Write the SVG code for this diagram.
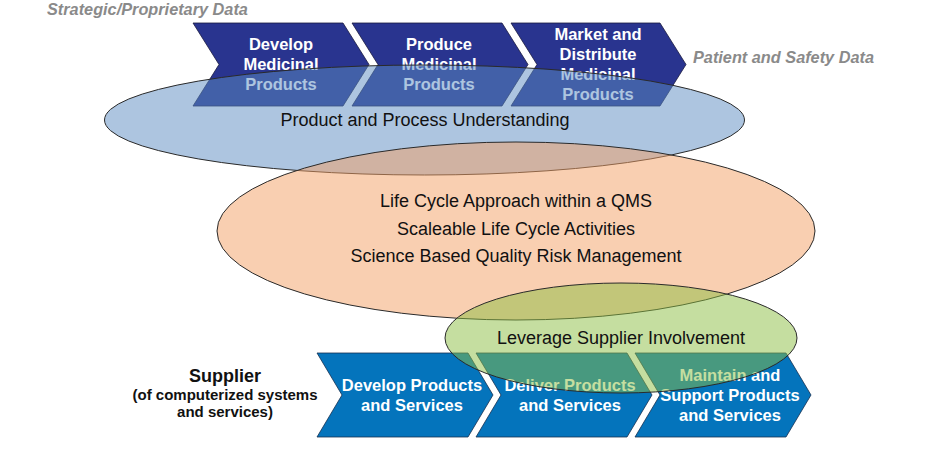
<svg xmlns="http://www.w3.org/2000/svg" width="946" height="450" viewBox="0 0 946 450">
<style>
.chevT{fill:#29348f;stroke:#1a1a40;stroke-width:0.8}
.chevB{fill:#0474bc;stroke:#163050;stroke-width:0.8}
.ct{font-family:"Liberation Sans",Arial,sans-serif;font-weight:bold;font-size:16.5px;fill:#ffffff;text-anchor:middle}
.cb{font-family:"Liberation Sans",Arial,sans-serif;font-weight:bold;font-size:16.5px;fill:#ffffff;text-anchor:middle}
.lbl{font-family:"Liberation Sans",Arial,sans-serif;font-weight:bold;font-style:italic;font-size:16.3px;fill:#8a8a8a}
.et{font-family:"Liberation Sans",Arial,sans-serif;font-size:18px;fill:#111111;text-anchor:middle}
.ell{stroke:#2a2a2a;stroke-width:1}
.sup{font-family:"Liberation Sans",Arial,sans-serif;font-weight:bold;fill:#111111;text-anchor:middle}
</style>
<rect width="946" height="450" fill="#ffffff"/>
<text class="lbl" x="47" y="15">Strategic/Proprietary Data</text>
<text class="lbl" x="693" y="63">Patient and Safety Data</text>
<g id="top-develop">
<path class="chevT" d="M193,23 L343,23 L369,64.5 L343,106 L193,106 L219,64.5 Z"/>
<text class="ct" x="281" y="50">Develop</text>
<text class="ct" x="281" y="70">Medicinal</text>
<text class="ct" x="281" y="90">Products</text>
</g>
<g id="top-produce">
<path class="chevT" d="M352,23 L502,23 L528,64.5 L502,106 L352,106 L378,64.5 Z"/>
<text class="ct" x="439" y="50">Produce</text>
<text class="ct" x="439" y="70">Medicinal</text>
<text class="ct" x="439" y="90">Products</text>
</g>
<g id="top-market">
<path class="chevT" d="M511,23 L660,23 L686,64.5 L660,106 L511,106 L537,64.5 Z"/>
<text class="ct" x="598" y="40">Market and</text>
<text class="ct" x="598" y="60">Distribute</text>
<text class="ct" x="598" y="80">Medicinal</text>
<text class="ct" x="598" y="100">Products</text>
</g>
<g id="supplier-label">
<text class="sup" x="225" y="382" font-size="18">Supplier</text>
<text class="sup" x="225" y="400" font-size="15">(of computerized systems</text>
<text class="sup" x="225" y="417" font-size="15">and services)</text>
</g>
<g id="bot-develop">
<path class="chevB" d="M317,353 L468,353 L493,395 L468,437 L317,437 L342,395 Z"/>
<text class="cb" x="412" y="391">Develop Products</text>
<text class="cb" x="412" y="411">and Services</text>
</g>
<g id="bot-deliver">
<path class="chevB" d="M476,353 L627,353 L652,395 L627,437 L476,437 L501,395 Z"/>
<text class="cb" x="570" y="391">Deliver Products</text>
<text class="cb" x="570" y="411">and Services</text>
</g>
<g id="bot-maintain">
<path class="chevB" d="M635,353 L786,353 L811,395 L786,437 L635,437 L660,395 Z"/>
<text class="cb" x="730" y="381">Maintain and</text>
<text class="cb" x="730" y="401">Support Products</text>
<text class="cb" x="730" y="421">and Services</text>
</g>
<g id="product-process">
<ellipse class="ell" cx="424.5" cy="120" rx="320" ry="55" fill="#5b8bc1" fill-opacity="0.5"/>
<text class="et" x="425" y="126">Product and Process Understanding</text>
</g>
<g id="lifecycle">
<ellipse class="ell" cx="516" cy="231" rx="299" ry="89" fill="#f3a063" fill-opacity="0.5"/>
<text class="et" x="516" y="207">Life Cycle Approach within a QMS</text>
<text class="et" x="516" y="235">Scaleable Life Cycle Activities</text>
<text class="et" x="516" y="262">Science Based Quality Risk Management</text>
</g>
<g id="supplier-involvement">
<ellipse class="ell" cx="621" cy="338" rx="176" ry="55" fill="#8bbd41" fill-opacity="0.5"/>
<text class="et" x="621" y="344">Leverage Supplier Involvement</text>
</g>
</svg>
